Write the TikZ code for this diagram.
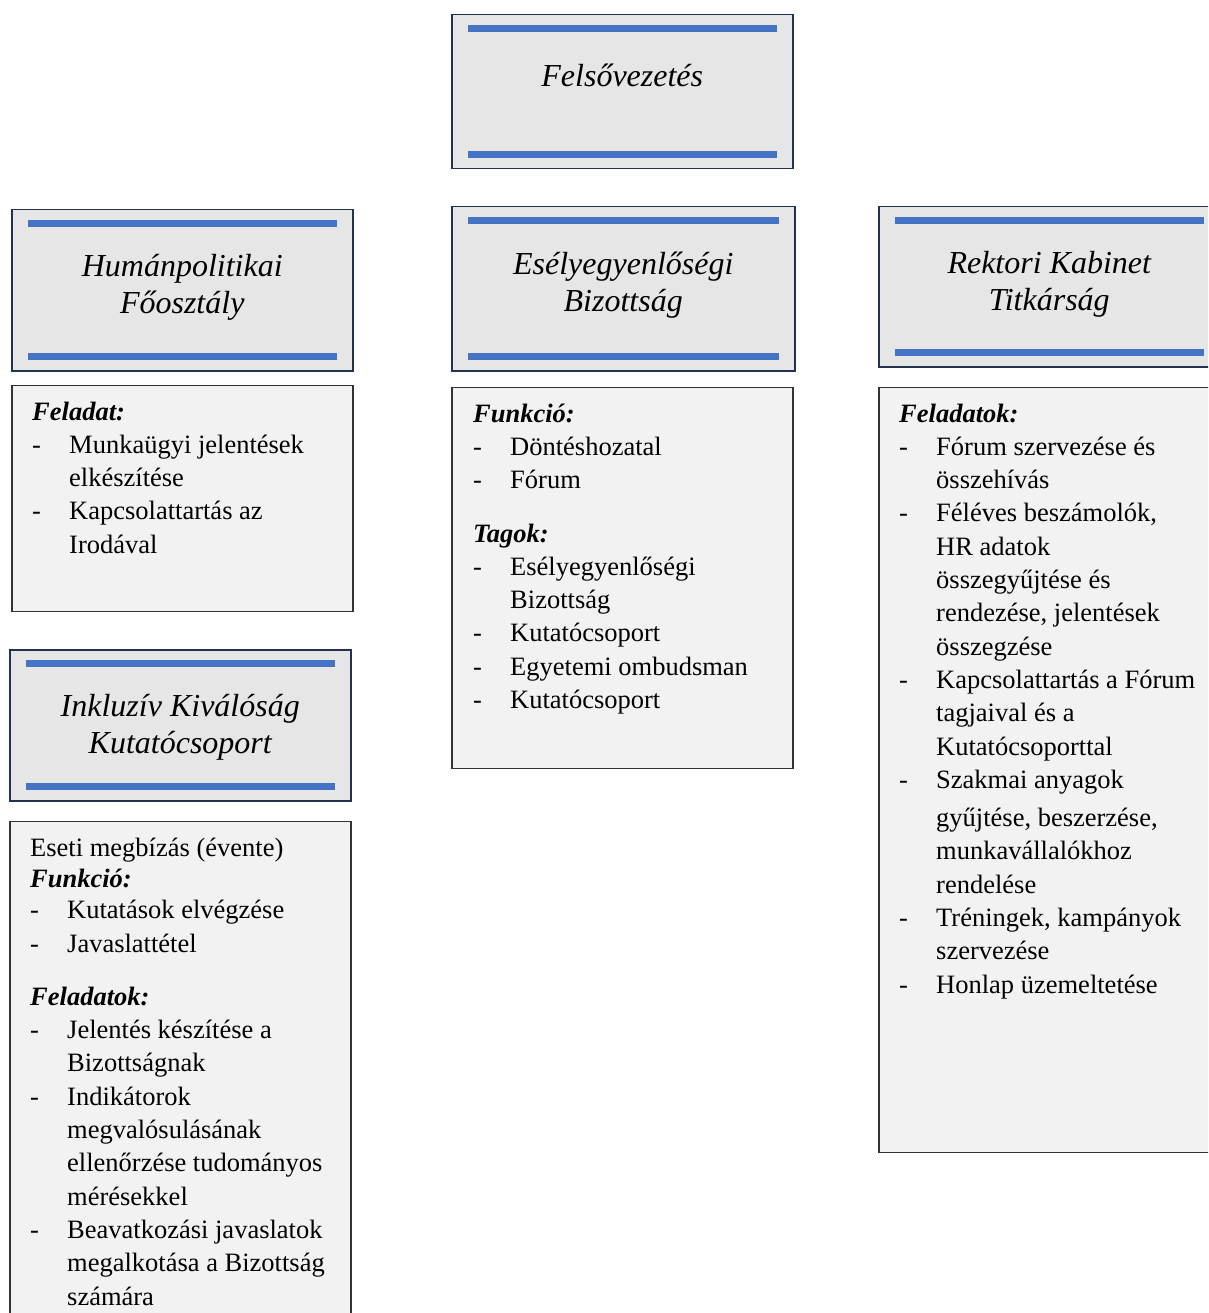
\documentclass[tikz,border=0pt]{standalone}
\usepackage{fontspec}
\setmainfont{Liberation Serif}
\usetikzlibrary{positioning}
\definecolor{barblue}{HTML}{4472C4}
\definecolor{headfill}{HTML}{E7E6E6}
\definecolor{headline}{HTML}{25324F}
\definecolor{bodyfill}{HTML}{F2F2F2}
\definecolor{bodyline}{HTML}{333333}
\newcommand{\itm}[1]{\makebox[37pt][l]{-}#1}
\newcommand{\cnt}[1]{\hspace*{37pt}#1}
\newcommand{\hd}[1]{\textbf{\textit{#1}}}

\begin{document}
\begin{tikzpicture}[x=1pt, y=-1pt,
        header/.style={draw=headline, line width=1.5pt, fill=headfill, rectangle, anchor=north west, minimum width=341pt, inner sep=0pt,
            path picture={
                \draw[barblue, line width=7pt] ([xshift=16pt,yshift=-14pt]path picture bounding box.north west) -- ([xshift=-16pt,yshift=-14pt]path picture bounding box.north east);
                \draw[barblue, line width=7pt] ([xshift=16pt,yshift=14pt]path picture bounding box.south west) -- ([xshift=-16pt,yshift=14pt]path picture bounding box.south east);
            }},
        title/.style={font=\fontsize{32}{37}\selectfont\itshape, align=center, inner sep=0pt},
        body/.style={draw=bodyline, line width=1.5pt, fill=bodyfill, rectangle, minimum width=341pt, inner sep=0pt},
        list/.style={anchor=north west, inner sep=0pt, align=left, font=\fontsize{26.5}{33.3}\selectfont}
    ]
        \useasboundingbox (0,0) rectangle (1208,1313);
        \clip (0,0) rectangle (1208,1313);

        % Top
        \node[header, minimum height=154pt] (fv) at (451,14) {};
        \node[title] (fvt) at ([yshift=16pt]fv.center) {Felsővezetés};

        % Humanpolitikai Foosztaly
        \node[header, minimum height=161pt] (hp) at (11,209) {};
        \node[title] (hpt) at ([yshift=3pt]hp.center) {Humánpolitikai\\Főosztály};
        \node[body, minimum height=226pt, below=13pt of hp] (hpb) {};
        \node[list] (hpl) at ([xshift=21pt,yshift=-17pt]hpb.north west) {\hd{Feladat:}\\
            \itm{Munkaügyi jelentések}\\
            \cnt{elkészítése}\\
            \itm{Kapcsolattartás az}\\
            \cnt{Irodával}};

        % Inkluziv Kivalosag Kutatocsoport
        \node[header, minimum height=151pt] (ik) at (9,649) {};
        \node[title] (ikt) at ([yshift=-2pt]ik.center) {Inkluzív Kiválóság\\Kutatócsoport};
        \node[body, minimum height=520pt, below=19pt of ik] (ikb) {};
        \node[list] (ikl) at ([xshift=21pt,yshift=-17pt]ikb.north west) {Eseti megbízás (évente)\\[-2pt]
            \hd{Funkció:}\\[-2pt]
            \itm{Kutatások elvégzése}\\
            \itm{Javaslattétel}\\[20pt]
            \hd{Feladatok:}\\
            \itm{Jelentés készítése a}\\
            \cnt{Bizottságnak}\\
            \itm{Indikátorok}\\
            \cnt{megvalósulásának}\\
            \cnt{ellenőrzése tudományos}\\
            \cnt{mérésekkel}\\
            \itm{Beavatkozási javaslatok}\\
            \cnt{megalkotása a Bizottság}\\
            \cnt{számára}};

        % Eselyegyenlosegi Bizottsag
        \node[header, minimum width=343pt, minimum height=164pt] (eb) at (451,206) {};
        \node[title] (ebt) at ([yshift=4pt]eb.center) {Esélyegyenlőségi\\Bizottság};
        \node[body, minimum height=381pt, below=15pt of eb.south west, anchor=north west] (ebb) {};
        \node[list] (ebl) at ([xshift=22pt,yshift=-17pt]ebb.north west) {\hd{Funkció:}\\
            \itm{Döntéshozatal}\\
            \itm{Fórum}\\[20pt]
            \hd{Tagok:}\\
            \itm{Esélyegyenlőségi}\\
            \cnt{Bizottság}\\
            \itm{Kutatócsoport}\\
            \itm{Egyetemi ombudsman}\\
            \itm{Kutatócsoport}};

        % Rektori Kabinet Titkarsag
        \node[header, minimum height=160pt] (rk) at (878,206) {};
        \node[title] (rkt) at ([yshift=2pt]rk.center) {Rektori Kabinet\\Titkárság};
        \node[body, minimum height=765pt, below=19pt of rk] (rkb) {};
        \node[list] (rkl) at ([xshift=21pt,yshift=-17pt]rkb.north west) {\hd{Feladatok:}\\
            \itm{Fórum szervezése és}\\
            \cnt{összehívás}\\
            \itm{Féléves beszámolók,}\\
            \cnt{HR adatok}\\
            \cnt{összegyűjtése és}\\
            \cnt{rendezése, jelentések}\\
            \cnt{összegzése}\\
            \itm{Kapcsolattartás a Fórum}\\
            \cnt{tagjaival és a}\\
            \cnt{Kutatócsoporttal}\\
            \itm{Szakmai anyagok}\\[5pt]
            \cnt{gyűjtése, beszerzése,}\\
            \cnt{munkavállalókhoz}\\
            \cnt{rendelése}\\
            \itm{Tréningek, kampányok}\\
            \cnt{szervezése}\\
            \itm{Honlap üzemeltetése}};

    \end{tikzpicture}
\end{document}
